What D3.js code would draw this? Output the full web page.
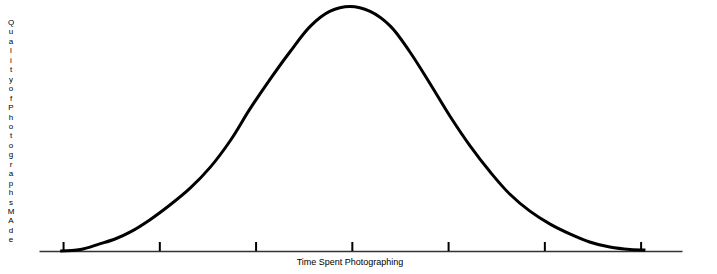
<!DOCTYPE html>
<html>
<head>
<meta charset="utf-8">
<script src="https://cdn.jsdelivr.net/npm/d3@7"></script>
<style>
  body { margin: 0; background: #fff; }
  svg { display: block; }
</style>
</head>
<body>
<div id="chart"></div>
<script>
// time (tick units) and quality (0-100)
const timeVals = [-0.03, 0.18, 0.38, 0.54, 0.70, 0.90, 1.11, 1.32, 1.53, 1.74, 1.94, 2.15, 2.36, 2.57, 2.77, 2.98,
                  3.19, 3.40, 3.60, 3.81, 4.02, 4.23, 4.44, 4.64, 4.85, 5.06, 5.27, 5.47, 5.68, 5.89, 6.05];
const qualityVals = [0, 0.6, 2.9, 4.9, 7.8, 12.7, 18.8, 25.7, 34.3, 45.3, 58.0, 70.2, 81.6, 92.0, 98.0, 100,
                     98.0, 92.0, 81.6, 68.6, 55.1, 42.9, 32.2, 23.3, 16.3, 11.0, 6.9, 3.7, 1.6, 0.6, 0.4];
const tickVals = [0, 1, 2, 3, 4, 5, 6];
const xTitle = 'Time Spent Photographing';
const yTitle = 'Quality of Photographs MAde';

const width = 717, height = 274;

const svg = d3.select('#chart').append('svg')
    .attr('width', width)
    .attr('height', height);

const x = d3.scaleLinear().domain([-0.25, 6.43]).range([39, 682]);
const y = d3.scaleLinear().domain([0, 100]).range([251, 6.5]);

// axis with upward ticks, no labels
const axis = svg.append('g')
    .attr('transform', `translate(0,${y(0)})`)
    .call(d3.axisBottom(x).tickValues(tickVals).tickSize(-9).tickSizeOuter(0).tickFormat(''));
axis.select('.domain').attr('stroke', '#333').attr('stroke-width', 1.5);
axis.selectAll('.tick line').attr('stroke', '#000').attr('stroke-width', 2);

const pts = timeVals.map((t, i) => [t, qualityVals[i]]);
const line = d3.line()
    .x(d => x(d[0]))
    .y(d => y(d[1]))
    .curve(d3.curveCatmullRom.alpha(0.5));

svg.append('path')
    .datum(pts)
    .attr('d', line)
    .attr('fill', 'none')
    .attr('stroke', '#000')
    .attr('stroke-width', 3)
    .attr('stroke-linejoin', 'round');

svg.append('text')
    .attr('x', 350)
    .attr('y', 265)
    .attr('text-anchor', 'middle')
    .attr('font-family', 'Liberation Sans, Arial, sans-serif')
    .attr('font-size', 9)
    .attr('fill', '#000')
    .text(xTitle);

// vertical title, one letter per line, spaces dropped
const letters = yTitle.replace(/ /g, '').split('');
svg.append('g')
    .selectAll('text')
    .data(letters)
    .enter().append('text')
    .attr('x', 11)
    .attr('y', (d, i) => 25 + i * 9.45)
    .attr('text-anchor', 'middle')
    .attr('font-family', 'Liberation Sans, Arial, sans-serif')
    .attr('font-size', 8)
    .attr('fill', '#000')
    .text(d => d);
</script>
</body>
</html>
